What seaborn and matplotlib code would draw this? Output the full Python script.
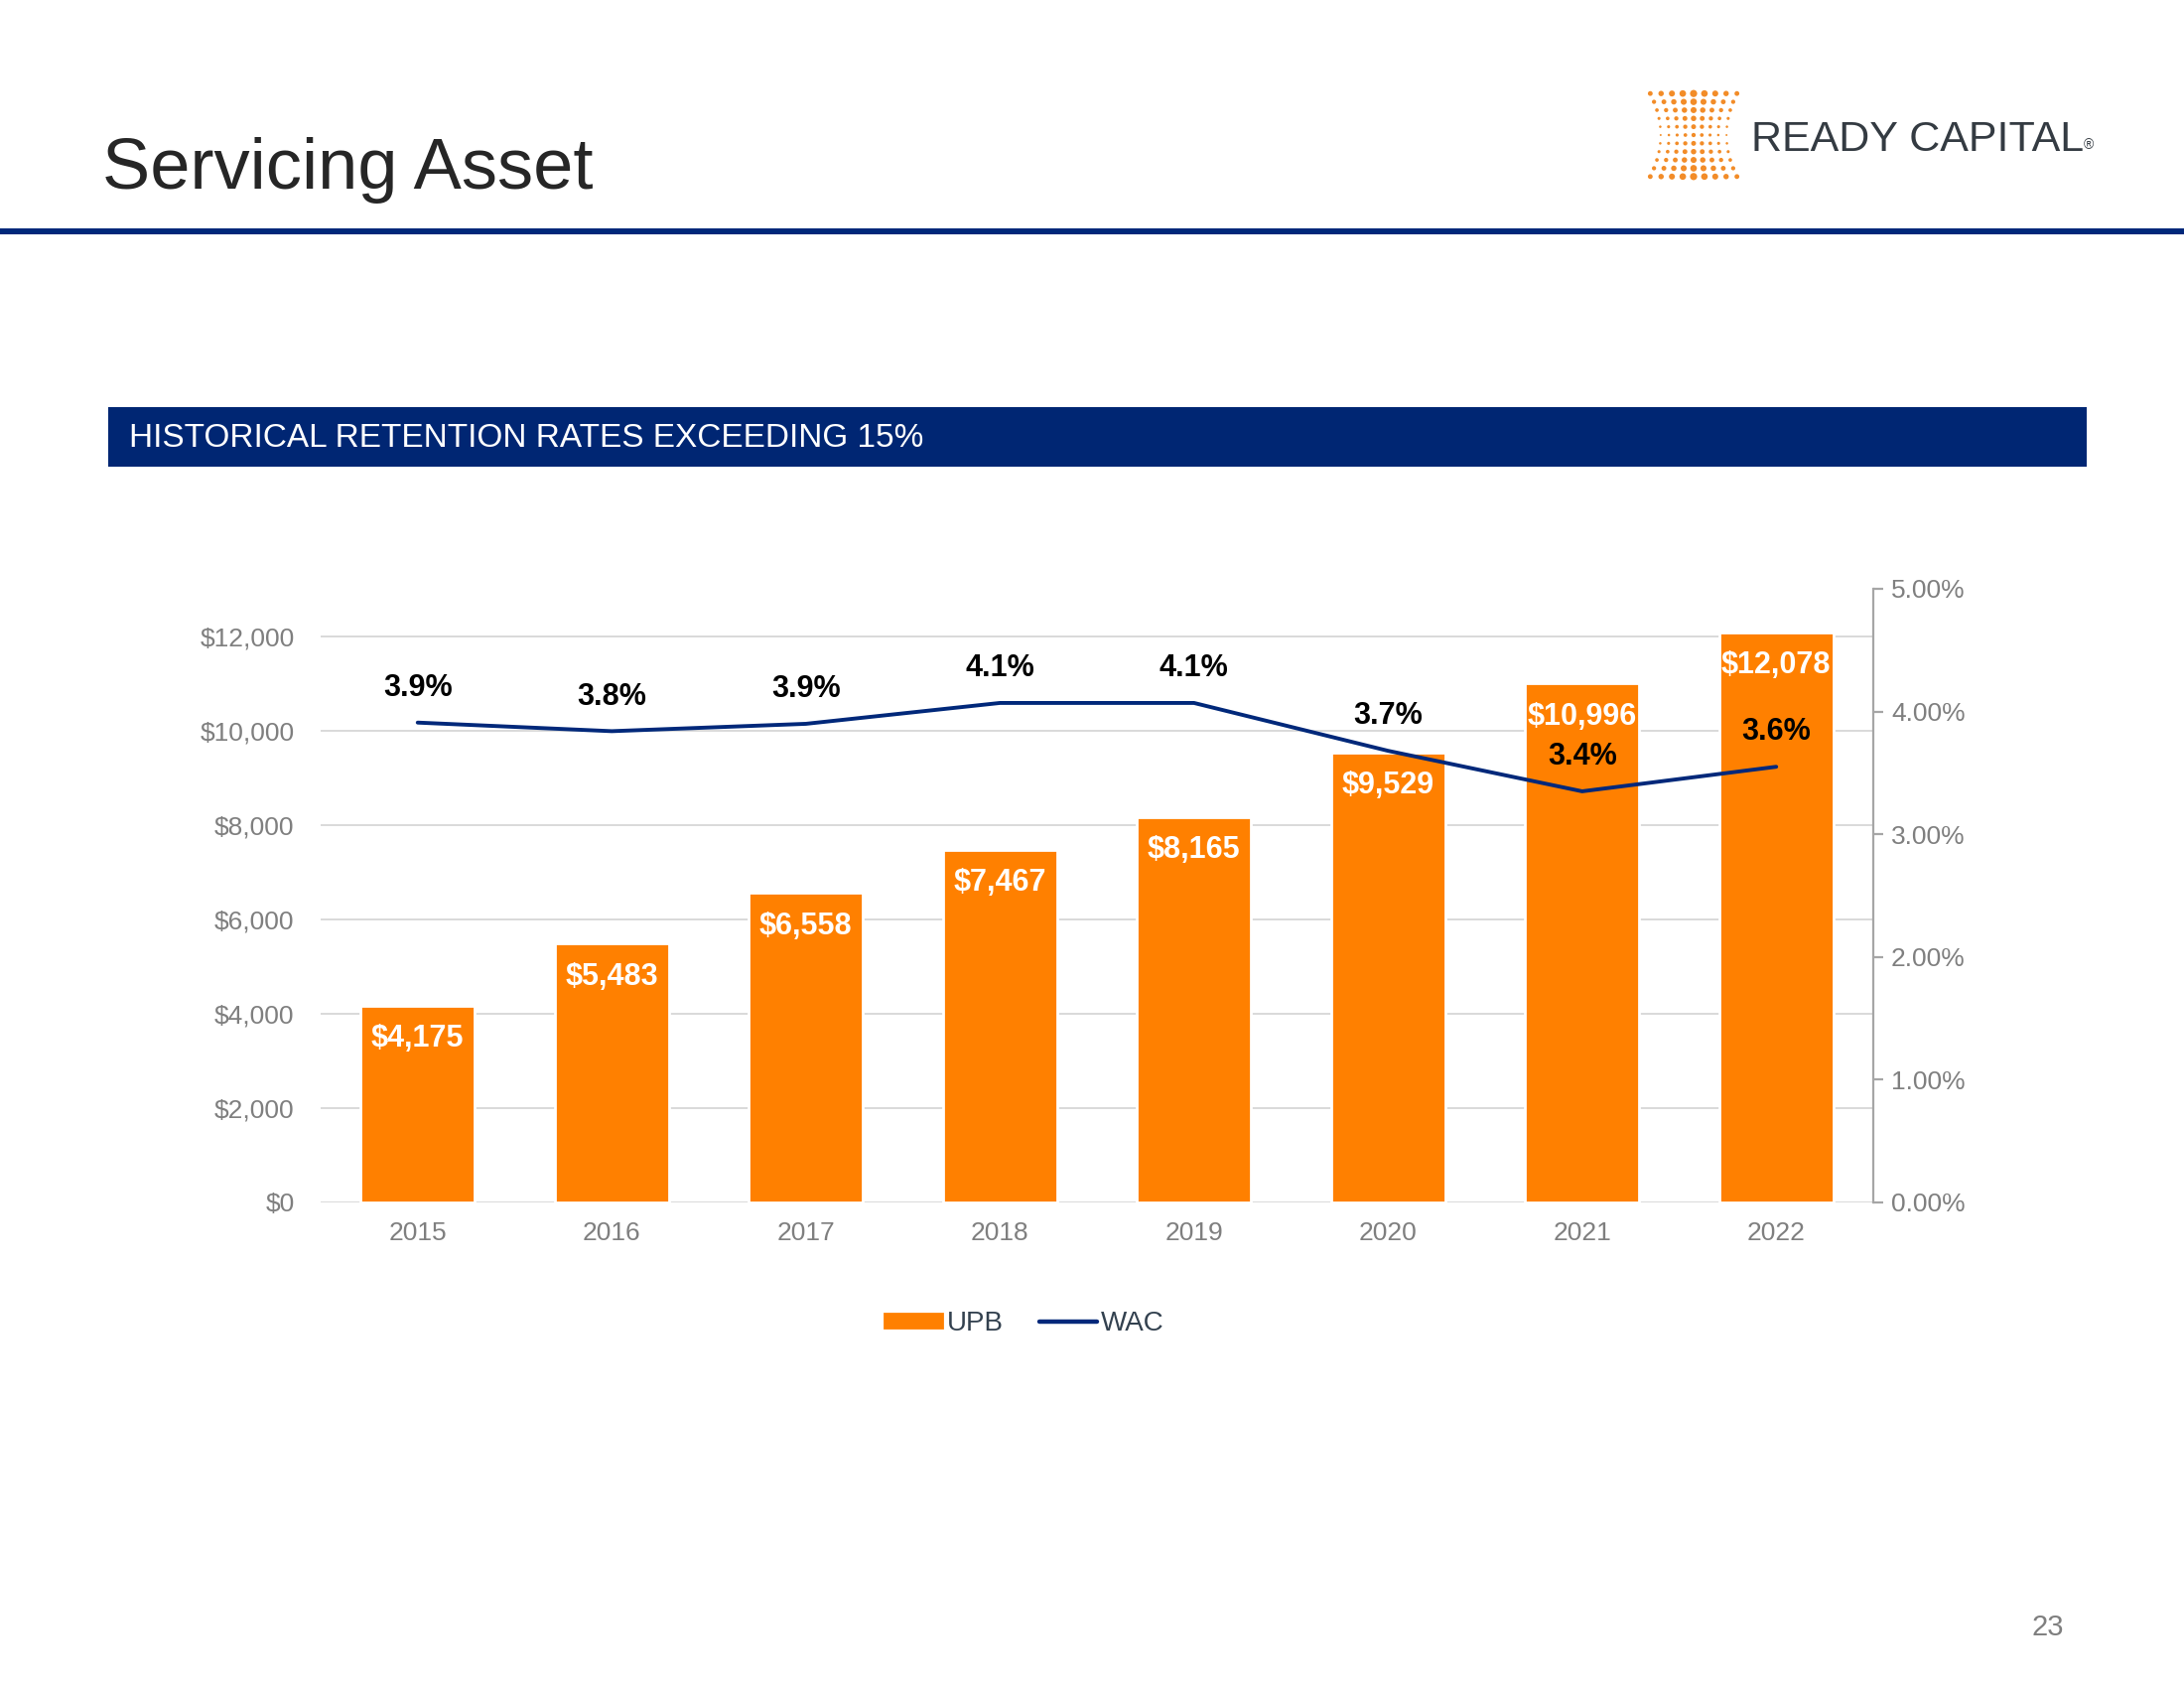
import numpy as np
import pandas as pd
import matplotlib
matplotlib.use("Agg")
import matplotlib.pyplot as plt
from matplotlib.patches import Rectangle, Patch
from matplotlib.lines import Line2D
import seaborn as sns

# chart data
years = ["2015", "2016", "2017", "2018", "2019", "2020", "2021", "2022"]
upb = [4175, 5483, 6558, 7467, 8165, 9529, 10996, 12078]
wac = [3.91, 3.84, 3.90, 4.07, 4.07, 3.68, 3.35, 3.55]
wac_labels = ["3.9%", "3.8%", "3.9%", "4.1%", "4.1%", "3.7%", "3.4%", "3.6%"]
left_ticks = [0, 2000, 4000, 6000, 8000, 10000, 12000]
right_ticks = [0, 1, 2, 3, 4, 5]

ORANGE = "#FF8000"
NAVY = "#00287A"
GREY = "#7F7F7F"

sns.set_theme(style="white")
plt.rcParams["font.family"] = ["Liberation Sans", "DejaVu Sans"]

fig = plt.figure(figsize=(11, 8.5), dpi=200)
W, H = 2200, 1700


def fx(px):
    return px / W


def fy(py):
    return 1 - py / H


# --- header ---
fig.text(fx(103), fy(190), "Servicing Asset", fontsize=26, color="#262626",
         ha="left", va="baseline")
fig.add_artist(Rectangle((0, fy(236)), 1, 6 / H, transform=fig.transFigure,
                         color=NAVY, lw=0))

# logo (dot grid, pinched in the middle)
logo = fig.add_axes([fx(1658), fy(182), fx(96), 92 / H])
logo.set_xlim(-1.1, 1.1)
logo.set_ylim(-1.1, 1.1)
logo.axis("off")
xs, ys, ss = [], [], []
rows, cols = 11, 9
for i in range(rows):
    v = -1 + 2 * i / (rows - 1)
    pinch = 0.76 + 0.24 * v ** 2
    for j in range(cols):
        u = -1 + 2 * j / (cols - 1)
        xs.append(u * pinch)
        ys.append(v)
        d = 0.7 + 1.9 * (0.55 * abs(v) + 0.45 * (1 - abs(u)))
        ss.append(d ** 2)
logo.scatter(xs, ys, s=ss, color="#F28C28", lw=0)
fig.text(fx(1764), fy(152), "READY CAPITAL", fontsize=15.5, color="#343B42",
         ha="left", va="baseline")
fig.text(fx(2099), fy(150), "®", fontsize=5, color="#343B42", ha="left", va="baseline")

# banner
fig.add_artist(Rectangle((fx(109), fy(470)), fx(2102 - 109), 60 / H,
                         transform=fig.transFigure, color="#002673", lw=0))
fig.text(fx(130), fy(442), "HISTORICAL RETENTION RATES EXCEEDING 15%",
         fontsize=12, color="white", ha="left", va="center")

# --- chart ---
ax = fig.add_axes([fx(323), fy(1211), fx(1887 - 323), (1211 - 593) / H])
df = pd.DataFrame({"year": years, "upb": upb})
sns.barplot(data=df, x="year", y="upb", color=ORANGE, saturation=1,
            width=0.59, ax=ax, zorder=2)
ax.set_xlim(-0.5, len(years) - 0.5)
ax.set_ylim(0, 13000)
ax.set_yticks(left_ticks)
ax.set_yticklabels([f"${v:,.0f}" for v in left_ticks])
ax.yaxis.grid(True, color="#D9D9D9", lw=0.7, zorder=0)
ax.set_axisbelow(True)
ax.set_xlabel("")
ax.set_ylabel("")
for s in ax.spines.values():
    s.set_visible(False)
ax.tick_params(axis="both", length=0, labelsize=9.5, labelcolor=GREY)
ax.tick_params(axis="y", pad=9.5)
ax.tick_params(axis="x", pad=7)

for i, v in enumerate(upb):
    ax.annotate(f"${v:,.0f}", (i, v), xytext=(0, -12), textcoords="offset points",
                ha="center", va="center", color="white", fontsize=11,
                fontweight="bold", zorder=5)

ax2 = ax.twinx()
sns.lineplot(x=np.arange(len(years)), y=wac, color=NAVY, lw=1.4, ax=ax2, zorder=4)
ax2.set_ylim(0, 5)
ax2.set_yticks(right_ticks)
ax2.set_yticklabels([f"{v:.2f}%" for v in right_ticks])
for s in ["top", "left", "bottom"]:
    ax2.spines[s].set_visible(False)
ax2.spines["right"].set_color("#A6A6A6")
ax2.spines["right"].set_linewidth(0.8)
ax2.tick_params(axis="y", direction="out", length=3.5, width=0.8, color="#A6A6A6",
                labelsize=9.5, labelcolor=GREY, pad=3)
ax2.grid(False)
for i, v in enumerate(wac):
    ax2.annotate(wac_labels[i], (i, v), xytext=(0, 12.5), textcoords="offset points",
                 ha="center", va="center", color="black", fontsize=11,
                 fontweight="bold", zorder=6)

handles = [Patch(color=ORANGE, label="UPB"), Line2D([], [], color=NAVY, lw=1.6, label="WAC")]
fig.legend(handles=handles, loc="center", bbox_to_anchor=(fx(1032), fy(1333)),
           ncol=2, frameon=False, fontsize=10, labelcolor="#33414F",
           handlelength=2.1, handleheight=0.42, handletextpad=0.15, columnspacing=1.3)

fig.text(fx(2063), fy(1639), "23", fontsize=10.5, color=GREY, ha="center", va="center")

fig.savefig("out.png", dpi=200, facecolor="white")
